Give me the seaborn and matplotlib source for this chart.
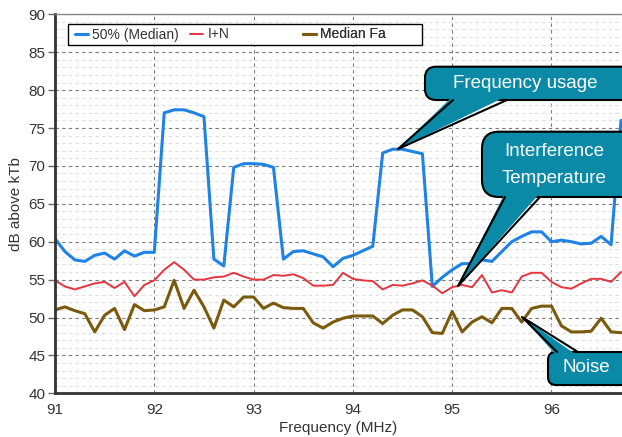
import pandas as pd
import matplotlib
matplotlib.use("Agg")
import matplotlib.pyplot as plt
import seaborn as sns
from matplotlib.patches import FancyBboxPatch, Polygon, Rectangle
from matplotlib.lines import Line2D
from matplotlib.transforms import Affine2D
from matplotlib.ticker import MultipleLocator

# frequency steps (MHz)
freq = [91.0, 91.1, 91.2, 91.3, 91.4, 91.5, 91.6, 91.7, 91.8, 91.9,
        92.0, 92.1, 92.2, 92.3, 92.4, 92.5, 92.6, 92.7, 92.8, 92.9,
        93.0, 93.1, 93.2, 93.3, 93.4, 93.5, 93.6, 93.7, 93.8, 93.9,
        94.0, 94.1, 94.2, 94.3, 94.4, 94.5, 94.6, 94.7, 94.8, 94.9,
        95.0, 95.1, 95.2, 95.3, 95.4, 95.5, 95.6, 95.7, 95.8, 95.9,
        96.0, 96.1, 96.2, 96.3, 96.4, 96.5, 96.6, 96.7]

median = [60.4, 58.7, 57.6, 57.4, 58.2, 58.5, 57.7, 58.8, 58.1, 58.6,
          58.6, 77.0, 77.4, 77.4, 77.0, 76.5, 57.7, 56.8, 69.8, 70.3,
          70.3, 70.2, 69.8, 57.7, 58.7, 58.8, 58.4, 58.0, 56.7, 57.8,
          58.2, 58.8, 59.4, 71.7, 72.2, 72.2, 71.9, 71.6, 54.1, 55.3,
          56.3, 57.1, 57.1, 57.6, 57.4, 58.7, 60.0, 60.7, 61.3, 61.3,
          60.0, 60.2, 60.0, 59.7, 59.8, 60.7, 59.6, 76.0]

i_n = [54.9, 54.1, 53.7, 54.1, 54.5, 54.7, 53.9, 54.7, 52.8, 54.3,
       54.9, 56.3, 57.3, 56.3, 55.0, 55.0, 55.3, 55.4, 55.9, 55.4,
       55.0, 55.0, 55.6, 55.5, 55.7, 55.2, 54.2, 54.2, 54.3, 55.9,
       55.1, 54.9, 54.8, 53.7, 54.3, 54.2, 54.5, 54.9, 54.2, 53.2,
       54.0, 54.3, 54.0, 55.6, 53.3, 53.6, 53.3, 55.4, 55.9, 55.9,
       54.7, 54.0, 53.8, 54.5, 55.1, 55.1, 54.7, 56.0]

median_fa = [51.0, 51.4, 50.9, 50.5, 48.1, 50.3, 51.2, 48.4, 51.7, 50.9,
             51.0, 51.4, 54.9, 51.2, 53.6, 51.4, 48.6, 52.3, 51.4, 52.7,
             52.7, 51.2, 51.9, 51.3, 51.2, 51.2, 49.3, 48.6, 49.4, 49.9,
             50.2, 50.2, 50.2, 49.2, 50.3, 51.0, 51.0, 50.1, 48.0, 47.9,
             50.8, 48.1, 49.4, 50.1, 49.3, 51.2, 51.2, 49.4, 51.2, 51.5,
             51.5, 48.9, 48.1, 48.1, 48.2, 49.9, 48.1, 48.0]

labels = ["50% (Median)", "I+N", "Median Fa"]
colors = ["#1e82e6", "#e8343e", "#7a5a0c"]
widths = [2.2, 1.4, 2.2]

df = pd.DataFrame({"freq": freq, labels[0]: median, labels[1]: i_n, labels[2]: median_fa})

sns.set_style("white")
plt.rcParams["font.family"] = ["Liberation Sans", "DejaVu Sans"]

fig = plt.figure(figsize=(6.22, 4.37), dpi=100)
ax = fig.add_axes([55 / 622, 1 - 393.3 / 437, 567 / 622, 379 / 437])

for lab, col, lw in zip(labels, colors, widths):
    sns.lineplot(data=df, x="freq", y=lab, color=col, linewidth=lw, label=lab, legend=False, ax=ax)

ax.set_xlim(91, 96.71)
ax.set_ylim(40, 90)
ax.set_xticks([91, 92, 93, 94, 95, 96])
ax.set_yticks(range(40, 91, 5))
ax.yaxis.set_minor_locator(MultipleLocator(1))
ax.grid(which="major", axis="both", color="#7a7a7a", linestyle=(0, (3, 3)), linewidth=0.8)
ax.grid(which="minor", axis="y", color="#dedede", linestyle=(0, (3, 3)), linewidth=0.8)
ax.set_axisbelow(True)

for s in ["left", "bottom"]:
    ax.spines[s].set_color("#333333")
    ax.spines[s].set_linewidth(2)
ax.spines["top"].set_color("#888888")
ax.spines["top"].set_linewidth(1)
ax.spines["right"].set_visible(False)

ax.tick_params(axis="y", which="major", left=True, length=5, width=1, color="#666666",
               labelsize=11, labelcolor="#333333", pad=2)
ax.tick_params(axis="x", which="major", bottom=True, length=0, labelsize=11, labelcolor="#333333", pad=7)
ax.tick_params(which="minor", length=0)

ax.set_xlabel("Frequency (MHz)", fontsize=11, color="#333333", labelpad=3)
ax.set_ylabel("dB above kTb", fontsize=11, color="#333333", labelpad=4)

# pixel coords, origin top-left
px = Affine2D().scale(1 / 622, -1 / 437).translate(0, 1) + fig.transFigure

# legend: boxed, three fixed columns
ax.add_patch(Rectangle((68, 24), 354, 21, transform=px, facecolor="white",
                       edgecolor="black", linewidth=1, clip_on=False, zorder=4.5))
lines = ax.get_lines()[:3]
for ln, lab, xpos in zip(lines, labels, [75, 190, 303]):
    leg = ax.legend([ln], [lab], loc="center left", bbox_to_anchor=(xpos, 34.5), bbox_transform=px,
                    frameon=False, borderpad=0, borderaxespad=0, handlelength=0.9,
                    handletextpad=0.35, fontsize=10, labelcolor="#333333")
    ax.add_artist(leg)

teal = "#0b8aa7"


def callout(box, radius, base, tip, text, tpos):
    x0, y0, x1, y1 = box
    fig.add_artist(FancyBboxPatch((x0, y0), x1 - x0, y1 - y0,
                                  boxstyle=f"round,pad=0,rounding_size={radius}",
                                  transform=px, facecolor=teal, edgecolor="black",
                                  linewidth=1.5, zorder=10))
    (bx0, by0), (bx1, by1) = base
    # push the fill a bit into the box so the outline is covered there
    inner = 4 if tip[1] > by0 else -4
    fig.add_artist(Polygon([(bx0, by0 - inner), tip, (bx1, by1 - inner)], closed=True,
                           transform=px, facecolor=teal, edgecolor="none", zorder=11))
    fig.add_artist(Line2D([bx0, tip[0], bx1], [by0, tip[1], by1], transform=px,
                          color="black", linewidth=1.5, zorder=12))
    fig.text(tpos[0], tpos[1], text, transform=px, ha="center", va="center",
             color="white", fontsize=13.5, linespacing=1.7, zorder=13)


callout((425, 66.7, 650, 100), 11, [(453, 100), (507, 100)], (398, 149),
        "Frequency usage", (525, 83))
callout((482, 131.7, 660, 197), 17, [(505, 197), (540, 197)], (458, 286),
        "Interference\nTemperature", (554, 165))
callout((548, 352, 640, 385), 8, [(557, 352), (578, 352)], (522, 317),
        "Noise", (586, 368))

fig.savefig("out.png", dpi=100)
